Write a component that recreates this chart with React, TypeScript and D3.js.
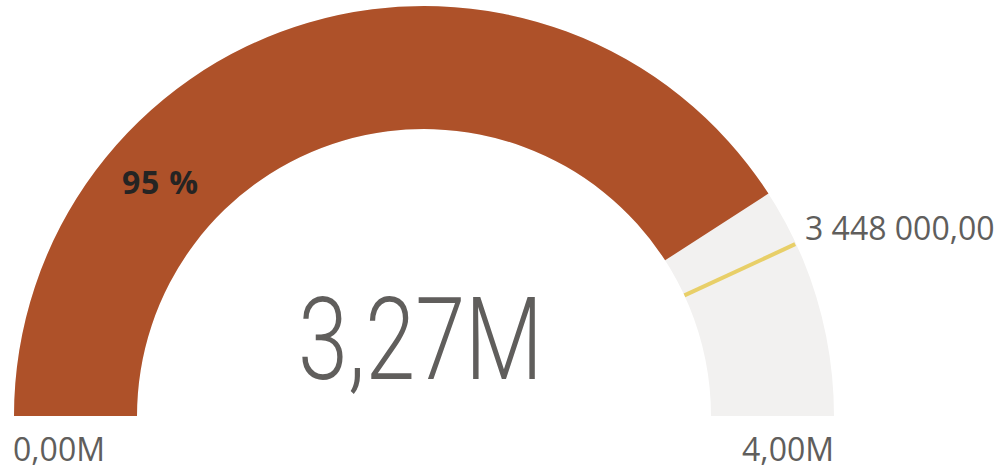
import React from "react";
import * as d3 from "d3";

const minValue = 0;
const maxValue = 4000000;
const actualValue = 3270000;
const targetValue = 3448000;
const minLabel = "0,00M";
const maxLabel = "4,00M";
const valueLabel = "3,27M";
const targetLabel = "3 448 000,00";
const percentLabel = "95 %";

const W = 1000;
const H = 469;
const cx = 424;
const cy = 416;
const rOuter = 410;
const rInner = 287;

export default function App() {
  const angle = d3
    .scaleLinear()
    .domain([minValue, maxValue])
    .range([-Math.PI / 2, Math.PI / 2]);

  const arcGen = d3.arc<any>().innerRadius(rInner).outerRadius(rOuter);
  const bgPath = arcGen({ startAngle: angle(minValue), endAngle: angle(maxValue) }) as string;
  const valPath = arcGen({ startAngle: angle(minValue), endAngle: angle(actualValue) }) as string;

  const ta = angle(targetValue);
  const tx1 = Math.sin(ta) * rInner;
  const ty1 = -Math.cos(ta) * rInner;
  const tx2 = Math.sin(ta) * (rOuter - 1);
  const ty2 = -Math.cos(ta) * (rOuter - 1);

  return (
    <svg
      width={W}
      height={H}
      style={{ position: "absolute", left: 0, top: 0, display: "block" }}
    >
      <g transform={`translate(${cx},${cy})`}>
        <path d={bgPath} fill="#F2F1F0" />
        <path d={valPath} fill="#AE5129" />
        <line
          x1={tx1}
          y1={ty1}
          x2={tx2}
          y2={ty2}
          stroke="#E8CF68"
          strokeWidth={4}
        />
      </g>
      <text
        x={298}
        y={379}
        textLength={245}
        lengthAdjust="spacingAndGlyphs"
        fontFamily="Roboto, 'Open Sans', sans-serif"
        fontWeight={300}
        fontSize={115}
        fill="#605E5C"
      >
        {valueLabel}
      </text>
      <text
        x={13}
        y={461}
        fontFamily="'Open Sans', sans-serif"
        fontSize={32}
        fill="#605E5C"
      >
        {minLabel}
      </text>
      <text
        x={834}
        y={461}
        textAnchor="end"
        fontFamily="'Open Sans', sans-serif"
        fontSize={32}
        fill="#605E5C"
      >
        {maxLabel}
      </text>
      <text
        x={805}
        y={240}
        fontFamily="'Open Sans', sans-serif"
        fontSize={32}
        fill="#605E5C"
      >
        {targetLabel}
      </text>
      <text
        x={122}
        y={194}
        textLength={76}
        lengthAdjust="spacing"
        fontFamily="'Open Sans', sans-serif"
        fontWeight={700}
        fontSize={32}
        fill="#252423"
      >
        {percentLabel}
      </text>
    </svg>
  );
}
